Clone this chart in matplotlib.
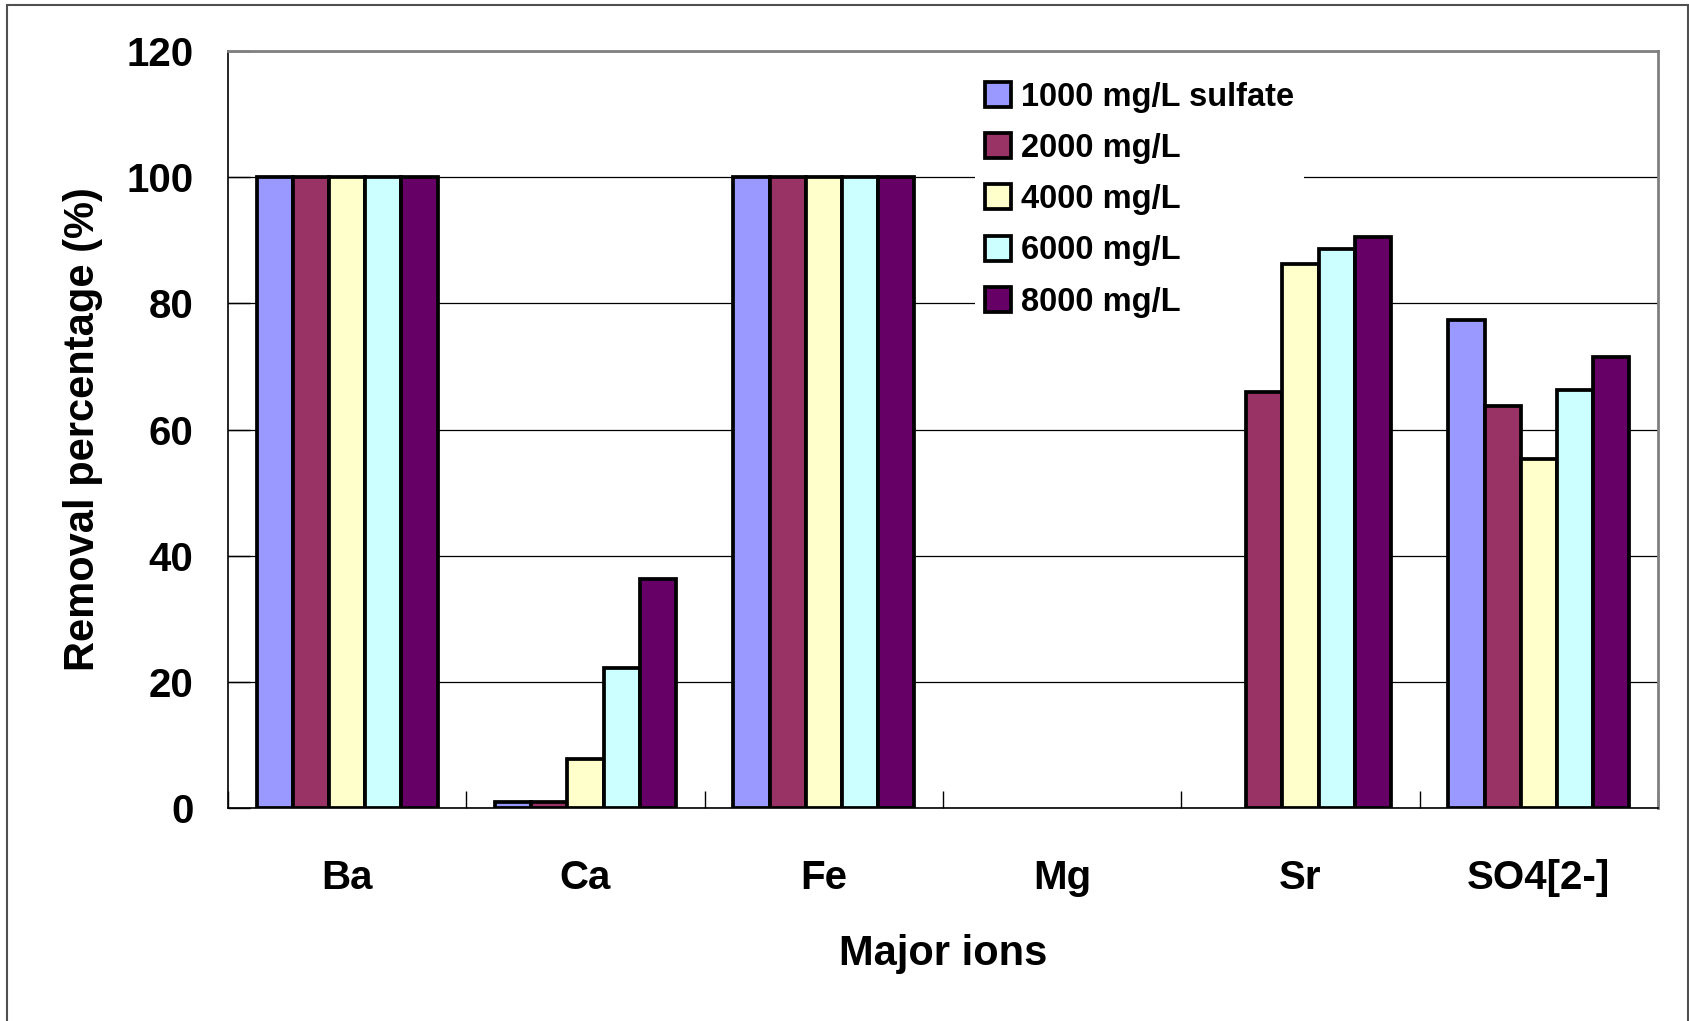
import numpy as np
import matplotlib
matplotlib.use('Agg')
import matplotlib.pyplot as plt
from matplotlib.patches import Rectangle

plt.rcParams['font.family'] = ['Liberation Sans', 'DejaVu Sans']
plt.rcParams['font.weight'] = 'bold'

# datos
ions = ['Ba', 'Ca', 'Fe', 'Mg', 'Sr', 'SO4[2-]']
series = ['1000 mg/L sulfate', '2000 mg/L', '4000 mg/L', '6000 mg/L', '8000 mg/L']
s1000 = [100, 0.9, 100, 0, 0, 77.3]
s2000 = [100, 0.9, 100, 0, 65.9, 63.8]
s4000 = [100, 7.7, 100, 0, 86.3, 55.3]
s6000 = [100, 22.2, 100, 0, 88.6, 66.2]
s8000 = [100, 36.3, 100, 0, 90.6, 71.5]
colors = ['#9999FF', '#993366', '#FFFFCC', '#CCFFFF', '#660066']
yticks = [0, 20, 40, 60, 80, 100, 120]

values = [s1000, s2000, s4000, s6000, s8000]

fig = plt.figure(figsize=(16.9, 10.21), dpi=100)
ax = fig.add_axes([0.1349, 0.2086, 0.8462, 0.7414])

x = np.arange(len(ions))
w = 0.152
for i, (vals, name, c) in enumerate(zip(values, series, colors)):
    bars = ax.bar(x + (i - 2) * w, vals, w, color=c, edgecolor='black',
                  linewidth=2.7, label=name, zorder=3)
    # barras de altura cero no se ven en el original
    for b, v in zip(bars, vals):
        if v == 0:
            b.set_linewidth(0)

ax.set_xlim(-0.5, len(ions) - 0.5)
ax.set_ylim(0, 120)
ax.set_yticks(yticks)
ax.set_yticklabels([str(t) for t in yticks])
ax.yaxis.grid(True, color='black', linewidth=0.9, zorder=0)
ax.set_axisbelow(True)

# marcas entre categorias
ax.set_xticks(np.arange(-0.5, len(ions) + 0.5, 1.0), minor=False)
ax.set_xticklabels([])
ax.set_xticks(x, minor=True)
ax.set_xticklabels(ions, minor=True, fontsize=29, fontweight='bold')
ax.tick_params(axis='x', which='major', direction='in', length=12, width=1)
ax.tick_params(axis='x', which='minor', length=0, pad=37)
ax.tick_params(axis='y', direction='in', length=16, width=1,
               labelsize=29, pad=25)

for s in ['top', 'right']:
    ax.spines[s].set_color('#808080')
    ax.spines[s].set_linewidth(2)
for s in ['left', 'bottom']:
    ax.spines[s].set_color('black')
    ax.spines[s].set_linewidth(1.2)

ax.set_xlabel('Major ions', fontsize=30, fontweight='bold', labelpad=26)
ax.set_ylabel('Removal percentage (%)', fontsize=30, fontweight='bold', labelpad=17)

leg = ax.legend(loc='upper left', bbox_to_anchor=(975 / 1690, 1 - 72 / 1021),
                bbox_transform=fig.transFigure, fontsize=23.5, frameon=True,
                fancybox=False, edgecolor='none', facecolor='white', framealpha=1,
                handlelength=0.8, handleheight=0.8, handletextpad=0.3,
                labelspacing=0.62, borderpad=0.3, borderaxespad=0)
leg.set_zorder(2.5)
for h in leg.legend_handles:
    h.set_linewidth(2.7)

# borde de la figura
fig.patches.append(Rectangle((7 / 1690, -0.05), 1681 / 1690, 1.05 - 5 / 1021,
                             transform=fig.transFigure, fill=False,
                             edgecolor='#505050', linewidth=1.5))

fig.savefig('out.png', dpi=100, facecolor='white')
